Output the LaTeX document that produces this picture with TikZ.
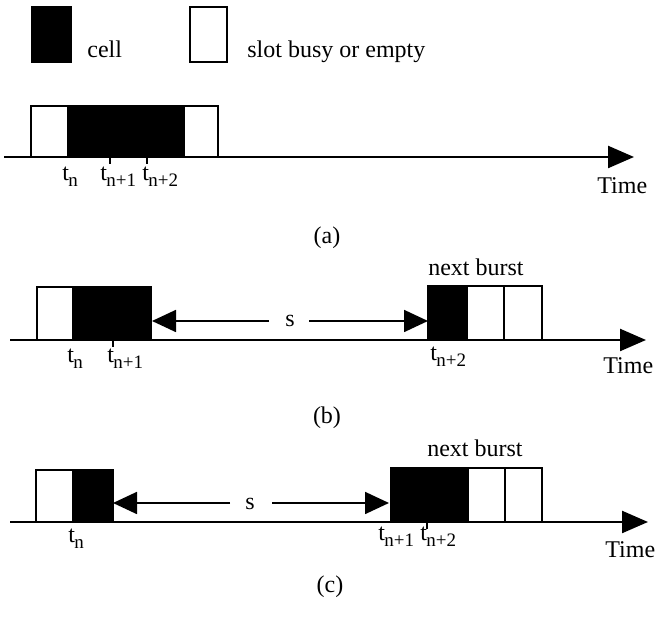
\documentclass[tikz,border=0pt]{standalone}
\usepackage{fontspec}
\setmainfont{Liberation Serif}
\usetikzlibrary{arrows.meta}
\tikzset{
  txt/.style={inner sep=0pt, font=\fontsize{12}{14}\selectfont},
  slot/.style={draw=black, line width=1pt, fill=white},
  cellbox/.style={draw=black, line width=1pt, fill=black},
  axis/.style={line width=1.2pt, -{Triangle[length=13pt,width=11pt]}},
  sarrow/.style={line width=0.9pt, -{Triangle[length=12pt,width=11pt]}},
  tick/.style={line width=0.9pt}
}
\newcommand{\tsub}[1]{t\kern-0.3pt\raisebox{-3pt}{\fontsize{9.5}{10}\selectfont #1}}
\begin{document}
\begin{tikzpicture}[x=0.5pt,y=-0.5pt]
\useasboundingbox (0,0) rectangle (655,619);
% legend
\draw[cellbox] (32,7) rectangle (71,62);
\node[txt, anchor=base west] (lcell) at (87,58) {cell};
\draw[slot] (190,7) rectangle (227,62);
\node[txt, anchor=base west] (lslot) at (247,58) {slot busy or empty};

% ---------- (a)
\draw[slot] (31,157) rectangle (68,106);
\draw[cellbox] (68,157) rectangle (184,106);
\draw[slot] (184,157) rectangle (218,106);
\coordinate (a0) at (4,157);
\coordinate (a1) at (634,157);
\draw[axis] (a0) -- (a1);
\draw[tick] (110,157) -- (110,164);
\draw[tick] (147,157) -- (147,164);
\node[txt, anchor=base west] (atn) at (62,181) {\tsub{n}};
\node[txt, anchor=base west] (atn1) at (100,181) {\tsub{n+1}};
\node[txt, anchor=base west] (atn2) at (142,181) {\tsub{n+2}};
\node[txt, anchor=base west] (atime) at (597,194) {Time};
\node[txt] (alab) at (327,238) {(a)};

% ---------- (b)
\draw[slot] (37,340) rectangle (73,287);
\draw[cellbox] (73,340) rectangle (151,287);
\draw[cellbox] (428,340) rectangle (467,286);
\draw[slot] (467,340) rectangle (504,286);
\draw[slot] (504,340) rectangle (542,286);
\coordinate (b0) at (10,340);
\coordinate (b1) at (646,340);
\draw[axis] (b0) -- (b1);
\draw[tick] (113,340) -- (113,347);
\node[txt] (bs) at (290,321) {s};
\coordinate (bl) at (269,321);
\coordinate (bltip) at (152,321);
\coordinate (br) at (309,321);
\coordinate (brtip) at (428,321);
\draw[sarrow] (bl) -- (bltip);
\draw[sarrow] (br) -- (brtip);
\node[txt] (bnext) at (476,267) {next burst};
\node[txt, anchor=base west] (btn) at (67,363) {\tsub{n}};
\node[txt, anchor=base west] (btn1) at (107,363) {\tsub{n+1}};
\node[txt, anchor=base west] (btn2) at (430,361) {\tsub{n+2}};
\node[txt, anchor=base west] (btime) at (603,374) {Time};
\node[txt] (blab) at (327,418) {(b)};

% ---------- (c)
\draw[slot] (36,522) rectangle (73,470);
\draw[cellbox] (73,522) rectangle (113,470);
\draw[cellbox] (391,522) rectangle (468,468);
\draw[slot] (468,522) rectangle (505,468);
\draw[slot] (505,522) rectangle (542,468);
\coordinate (c0) at (10,522);
\coordinate (c1) at (648,522);
\draw[axis] (c0) -- (c1);
\draw[tick] (427,522) -- (427,529);
\node[txt] (cs) at (250,504) {s};
\coordinate (cl) at (230,503);
\coordinate (cltip) at (113,503);
\coordinate (cr) at (272,503);
\coordinate (crtip) at (389,503);
\draw[sarrow] (cl) -- (cltip);
\draw[sarrow] (cr) -- (crtip);
\node[txt] (cnext) at (475,448) {next burst};
\node[txt, anchor=base west] (ctn) at (68,543) {\tsub{n}};
\node[txt, anchor=base west] (ctn1) at (378,541) {\tsub{n+1}};
\node[txt, anchor=base west] (ctn2) at (420,541) {\tsub{n+2}};
\node[txt, anchor=base west] (ctime) at (605,558) {Time};
\node[txt] (clab) at (330,587) {(c)};
\end{tikzpicture}
\end{document}
